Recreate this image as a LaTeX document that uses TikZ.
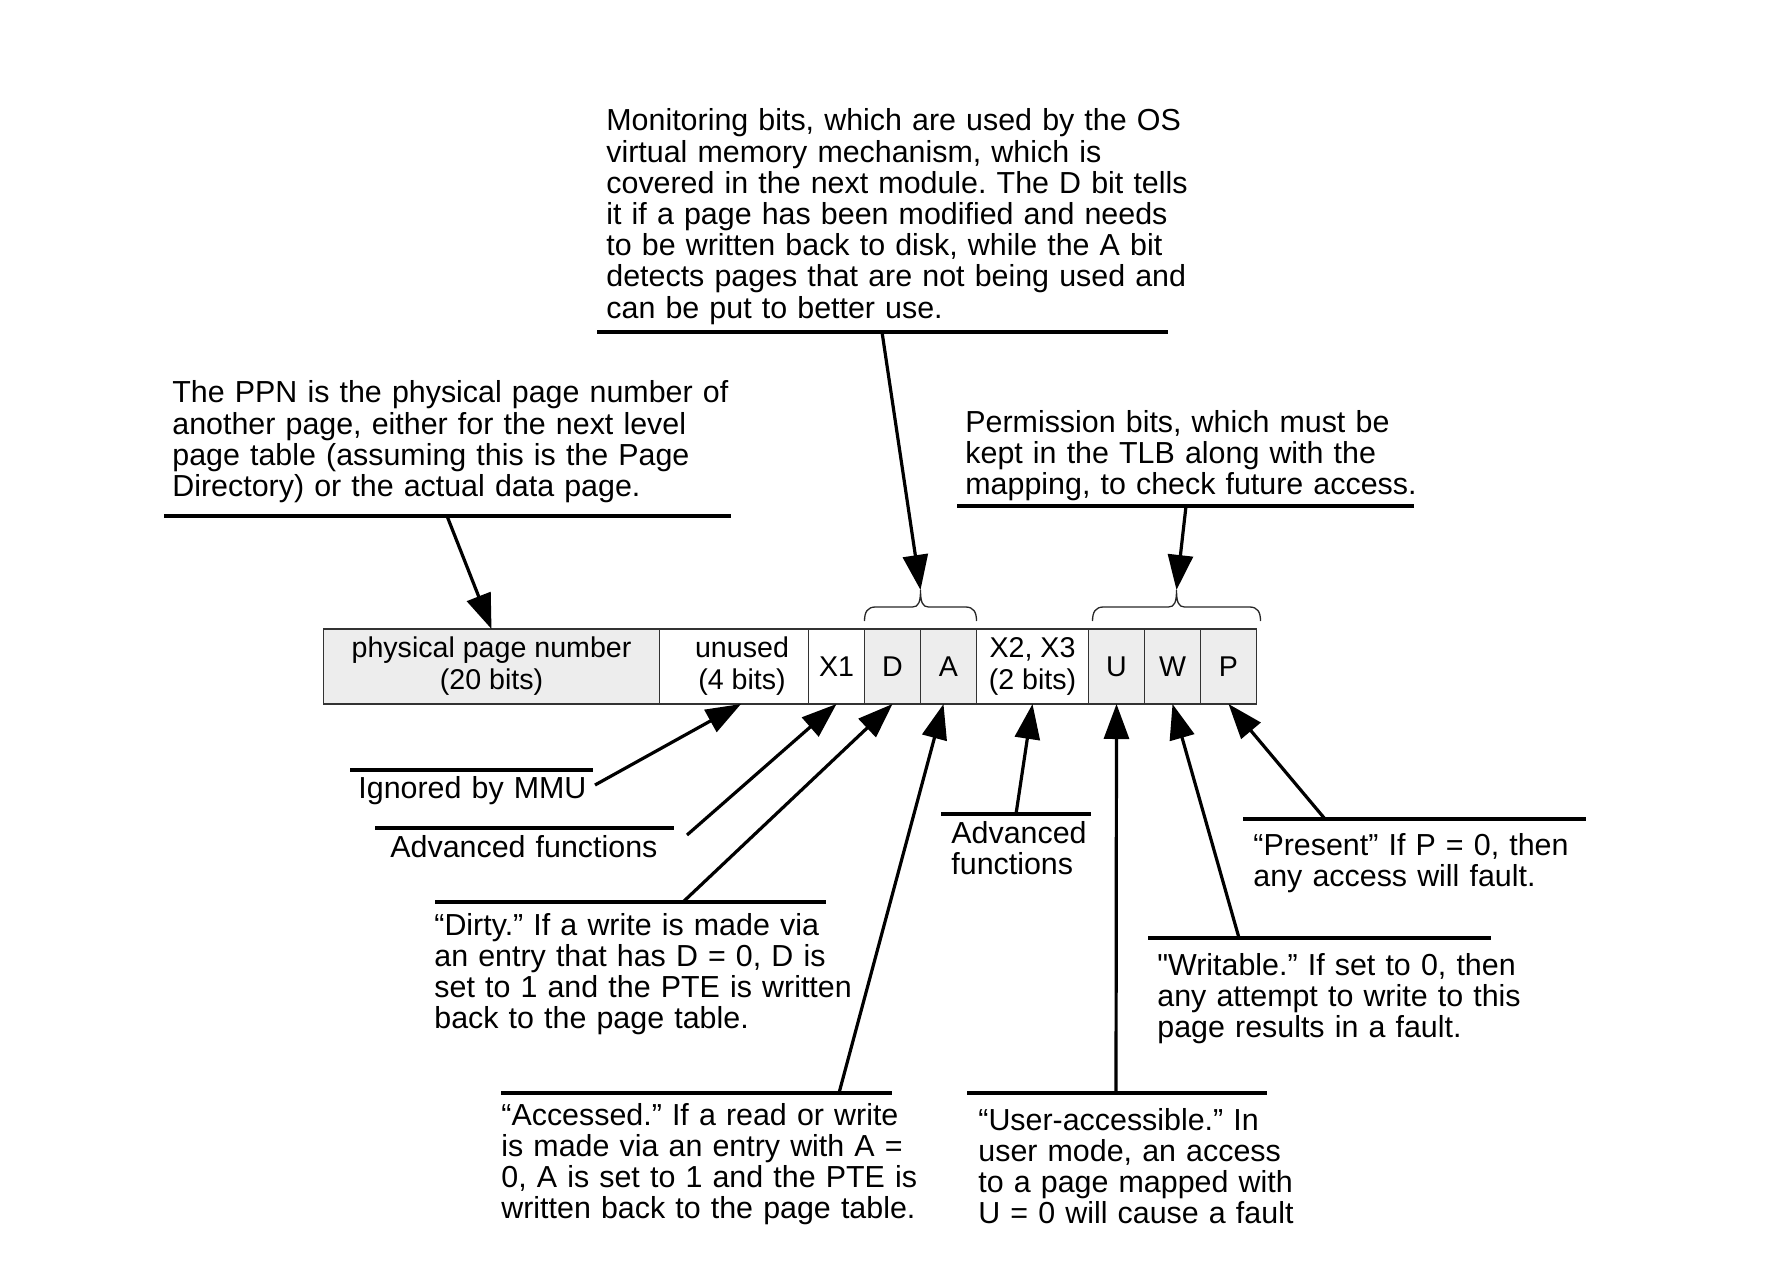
\documentclass[tikz,border=0pt]{standalone}
\usepackage{fontspec}
\setmainfont{Liberation Sans}
\usetikzlibrary{positioning,arrows.meta}
\frenchspacing

\tikzset{
  bit/.style={draw=black!80, line width=0.7pt, fill=black!7,
    minimum width=28pt, minimum height=37.5pt, inner sep=0pt, outer sep=0pt,
    align=center, font=\fontsize{14.3pt}{16pt}\selectfont},
  spare/.style={bit, fill=white},
  note/.style={anchor=base west, align=left, text width=320pt, inner sep=0pt,
    font=\fontsize{15.2pt}{15.6pt}\selectfont},
  rule/.style={line width=1.6pt},
  pointer/.style={line width=1.6pt, -{Triangle[length=17.5pt,width=12.5pt]}},
  curly/.style={line width=0.65pt, black!85},
}

% brace over a group of bits, ends given in picture units
\newcommand{\bitbrace}[2]{%
  \pgfmathsetmacro{\bmid}{(#1+#2)/2}
  \draw[curly] (#1,621) .. controls (#1,612) and (#1+3,607) .. (#1+11,607)
    -- (\bmid-8,607) .. controls (\bmid-2,607) and (\bmid,602) .. (\bmid,590)
    .. controls (\bmid,602) and (\bmid+2,607) .. (\bmid+8,607)
    -- (#2-11,607) .. controls (#2-3,607) and (#2,612) .. (#2,621);}

\begin{document}
\begin{tikzpicture}[x=0.5pt, y=-0.5pt]
  \useasboundingbox (0,0) rectangle (1780,1272);

  % the entry itself
  \node[bit, minimum width=168pt] (ppn) at (491.5,666.5) {physical page number\\(20 bits)};
  \node[spare, minimum width=74.5pt, right=0pt of ppn] (unused) {\hspace*{8pt}unused\\\hspace*{8pt}(4 bits)};
  \node[spare, right=0pt of unused] (x1) {X1};
  \node[bit, right=0pt of x1] (d) {D};
  \node[bit, right=0pt of d] (a) {A};
  \node[spare, minimum width=56pt, right=0pt of a] (x23) {X2, X3\\(2 bits)};
  \node[bit, right=0pt of x23] (u) {U};
  \node[bit, right=0pt of u] (w) {W};
  \node[bit, right=0pt of w] (p) {P};

  \bitbrace{864.5}{976.5}
  \bitbrace{1092.5}{1260.5}
  \coordinate (datip) at (920.5,590);
  \coordinate (uwptip) at (1176.5,590);

  % notes above
  \node[note] (ppnnote) at (172,403) {The PPN is the physical page number of\\
    another page, either for the next level\\
    page table (assuming this is the Page\\
    Directory) or the actual data page.};
  \draw[rule] (164,516) -- (731,516);
  \coordinate (ppnfoot) at (447,516);

  \node[note] (monnote) at (606,131) {Monitoring bits, which are used by the OS\\
    virtual memory mechanism, which is\\
    covered in the next module. The D bit tells\\
    it if a page has been modified and needs\\
    to be written back to disk, while the A bit\\
    detects pages that are not being used and\\
    can be put to better use.};
  \draw[rule] (597,332) -- (1168,332);
  \coordinate (monfoot) at (882,332);

  \node[note] (permnote) at (965,432) {Permission bits, which must be\\
    kept in the TLB along with the\\
    mapping, to check future access.};
  \draw[rule] (957,506) -- (1414,506);
  \coordinate (permfoot) at (1186,506);

  % notes below
  \node[note] (ignnote) at (358,798) {Ignored by MMU};
  \draw[rule] (350,770) -- (593,770);
  \coordinate (ignfoot) at (595,785);

  \node[note] (advnote) at (390,857) {Advanced functions};
  \draw[rule] (375,828) -- (674,828);
  \coordinate (advfoot) at (687,835);

  \node[note] (dirtynote) at (434,935) {“Dirty.” If a write is made via\\
    an entry that has D = 0, D is\\
    set to 1 and the PTE is written\\
    back to the page table.};
  \draw[rule] (435,902) -- (826,902);
  \coordinate (dirtyfoot) at (683,902);

  \node[note] (accnote) at (501,1125) {“Accessed.” If a read or write\\
    is made via an entry with A =\\
    0, A is set to 1 and the PTE is\\
    written back to the page table.};
  \draw[rule] (501,1093) -- (892,1093);
  \coordinate (accfoot) at (839,1093);

  \node[note] (xnote) at (951,843) {Advanced\\functions};
  \draw[rule] (941,814) -- (1091,814);
  \coordinate (xfoot) at (1016,814);

  \node[note] (usernote) at (978,1130) {“User-accessible.” In\\
    user mode, an access\\
    to a page mapped with\\
    U = 0 will cause a fault};
  \draw[rule] (967,1093) -- (1267,1093);
  \coordinate (userfoot) at (1116,1093);

  \node[note] (writnote) at (1157,975) {\textquotedbl Writable.” If set to 0, then\\
    any attempt to write to this\\
    page results in a fault.};
  \draw[rule] (1148,938) -- (1491,938);
  \coordinate (writfoot) at (1239,938);

  \node[note] (presnote) at (1253,855) {“Present” If P = 0, then\\
    any access will fault.};
  \draw[rule] (1243,819) -- (1586,819);
  \coordinate (presfoot) at (1325,819);

  % pointers
  \draw[pointer] (ppnfoot) -- (ppn.north);
  \draw[pointer] (monfoot) -- (datip);
  \draw[pointer] (permfoot) -- (uwptip);
  \draw[pointer] (ignfoot) -- ([xshift=3.5pt]unused.south);
  \draw[pointer] (advfoot) -- (x1.south);
  \draw[pointer] (dirtyfoot) -- (d.south);
  \draw[pointer] (accfoot) -- ([xshift=-2.5pt]a.south);
  \draw[pointer] (xfoot) -- (x23.south);
  \draw[pointer] (userfoot) -- (u.south);
  \draw[pointer] (writfoot) -- (w.south);
  \draw[pointer] (presfoot) -- (p.south);
\end{tikzpicture}
\end{document}
